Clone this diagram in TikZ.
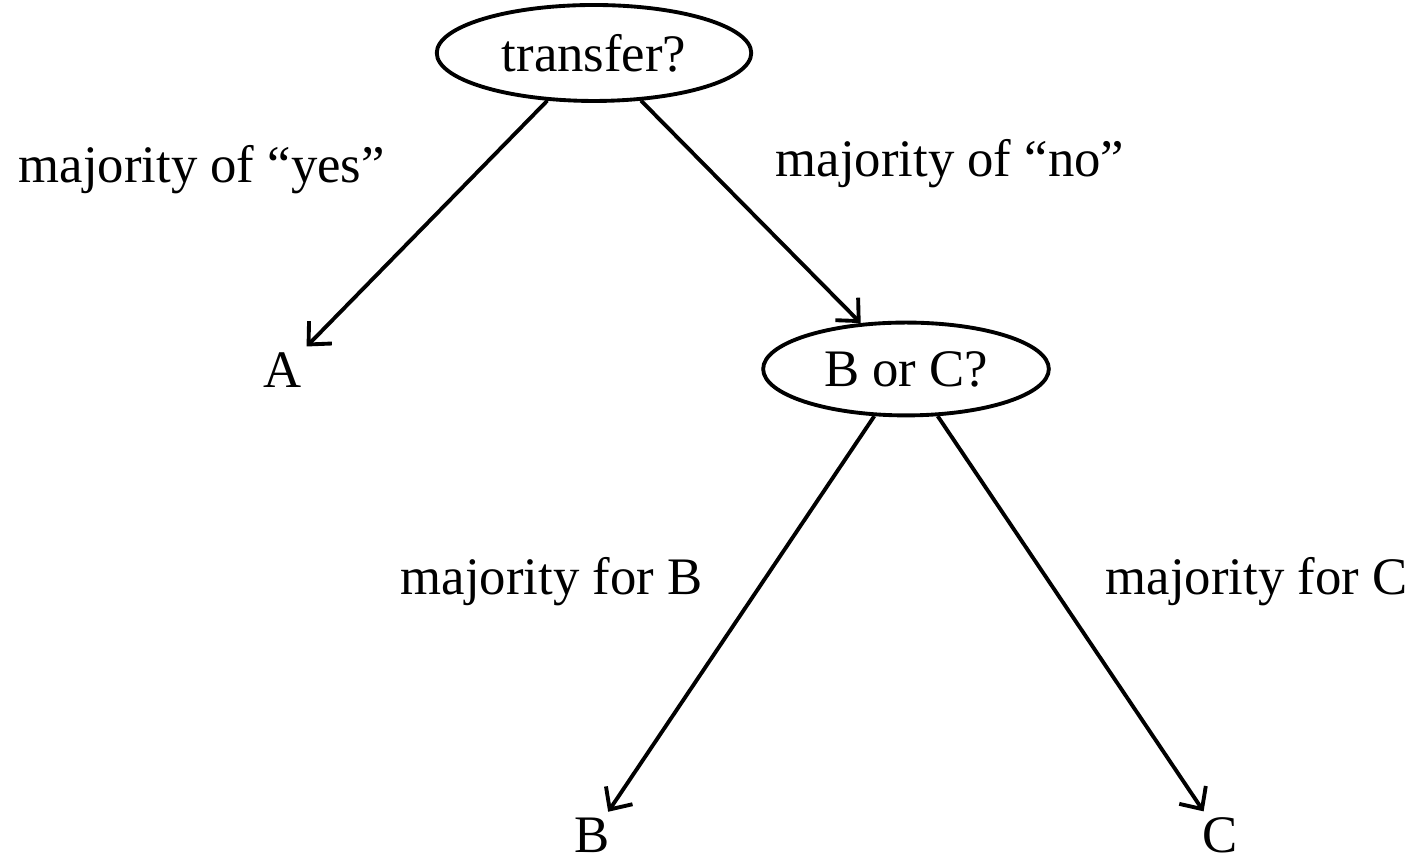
\documentclass[tikz,border=0pt]{standalone}
\usepackage{fontspec}
\setmainfont{Liberation Serif}
\usetikzlibrary{arrows.meta,shapes.geometric}

\begin{document}
\begin{tikzpicture}[
  font=\fontsize{15}{18}\selectfont,
  quest/.style={draw, ellipse, line width=1.1pt, inner xsep=0.19cm, inner ysep=0.15cm},
  leaf/.style={anchor=base, inner sep=0.6mm},
  lbl/.style={anchor=base west, inner sep=0pt},
  arrow/.style={-{Straight Barb[length=1.7mm, width=3.2mm, line width=1.1pt]}, line width=1.1pt}
]
\useasboundingbox (0,0) rectangle (14.26,8.61);
\node[quest] (t) at (5.94,8.08) {transfer?};
\node[leaf] (a) at (2.83,4.73) {A};
\node[quest] (bc) at (9.06,4.92) {B or C?};
\node[leaf] (b) at (5.92,0.08) {B};
\node[leaf] (c) at (12.20,0.08) {C};
\node[lbl] (yes) at (0.18,6.78) {majority of ``yes''};
\node[lbl] (no) at (7.75,6.84) {majority of ``no''};
\node[lbl] (forb) at (4.00,2.66) {majority for B};
\node[lbl] (forc) at (11.05,2.66) {majority for C};
\foreach \x/\y in {t/a,t/bc,bc/b,bc/c}
  \draw[arrow] (\x) -- (\y);
\end{tikzpicture}
\end{document}
